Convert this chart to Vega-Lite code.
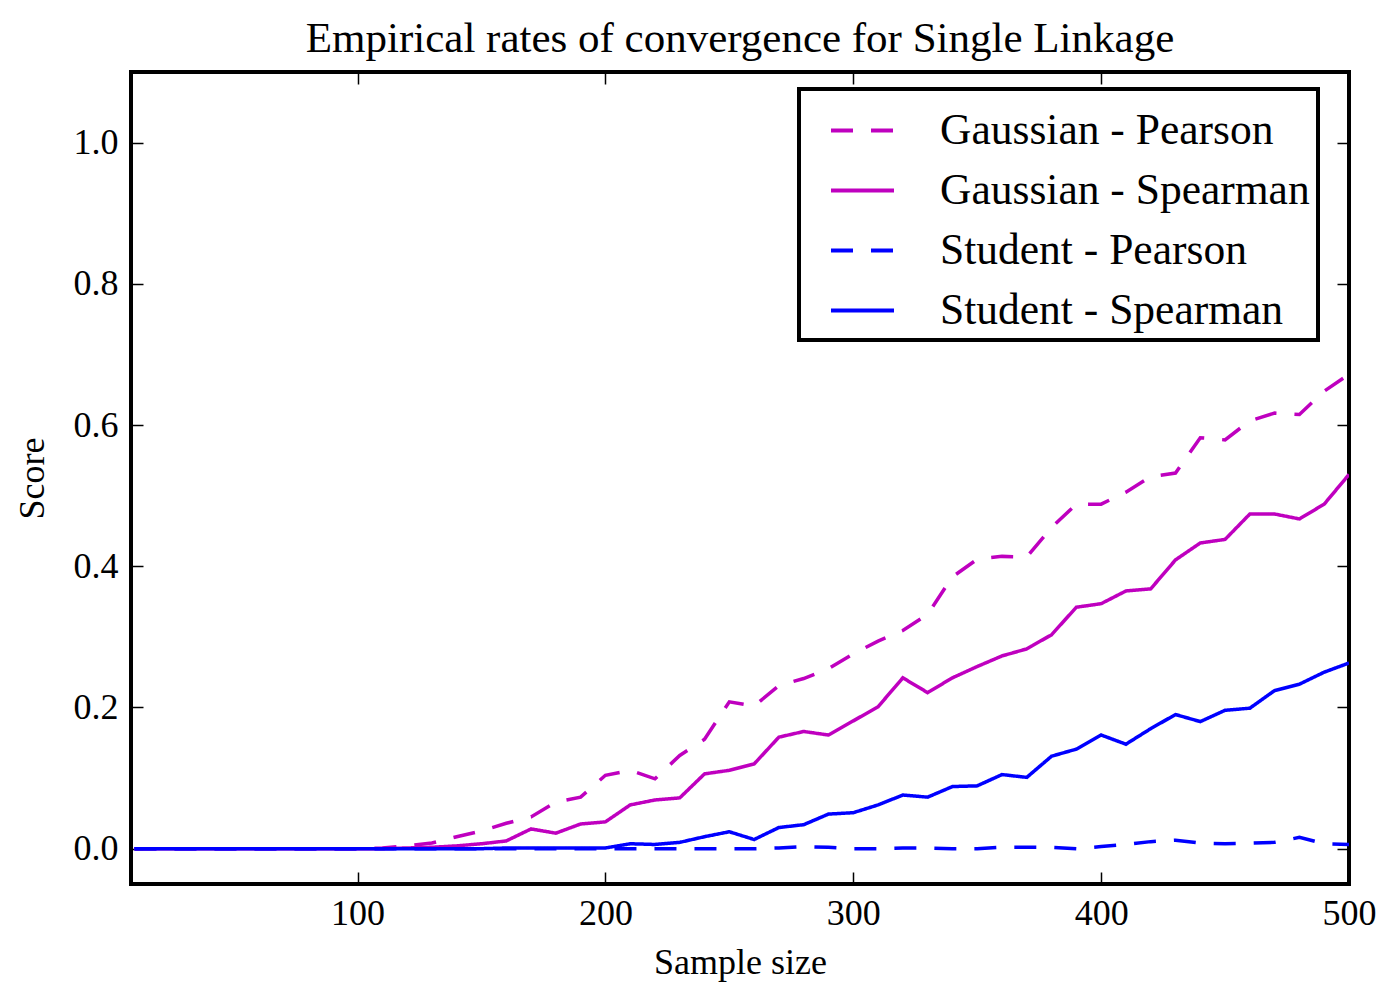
{
  "$schema": "https://vega.github.io/schema/vega-lite/v6.json",
  "width": 1218,
  "height": 812,
  "autosize": {"type": "none"},
  "padding": {"left": 131, "top": 72, "right": 39, "bottom": 107},
  "background": "white",
  "title": {"text": "Empirical rates of convergence for Single Linkage", "font": "Liberation Serif", "fontSize": 43, "fontWeight": "normal", "color": "black", "offset": 10, "anchor": "middle"},
  "config": {
    "view": {"stroke": "black", "strokeWidth": 4},
    "font": "Liberation Serif",
    "axis": {"domain": false, "grid": false, "tickColor": "black", "tickWidth": 1.5, "tickSize": -12, "labelFlush": false, "labelFont": "Liberation Serif", "labelFontSize": 36, "labelColor": "black", "titleFont": "Liberation Serif", "titleFontSize": 36, "titleFontWeight": "normal", "titleColor": "black"},
    "legend": {"labelFont": "Liberation Serif", "labelFontSize": 43.5, "labelColor": "black", "labelLimit": 0}
  },
  "data": {"values": [
    {"n": 10, "Gaussian - Pearson": 0, "Gaussian - Spearman": 0, "Student - Pearson": 0, "Student - Spearman": 0},
    {"n": 20, "Gaussian - Pearson": 0, "Gaussian - Spearman": 0, "Student - Pearson": 0, "Student - Spearman": 0},
    {"n": 30, "Gaussian - Pearson": 0, "Gaussian - Spearman": 0, "Student - Pearson": 0, "Student - Spearman": 0},
    {"n": 40, "Gaussian - Pearson": 0, "Gaussian - Spearman": 0, "Student - Pearson": 0, "Student - Spearman": 0},
    {"n": 50, "Gaussian - Pearson": 0, "Gaussian - Spearman": 0, "Student - Pearson": 0, "Student - Spearman": 0},
    {"n": 60, "Gaussian - Pearson": 0, "Gaussian - Spearman": 0, "Student - Pearson": 0, "Student - Spearman": 0},
    {"n": 70, "Gaussian - Pearson": 0, "Gaussian - Spearman": 0, "Student - Pearson": 0, "Student - Spearman": 0},
    {"n": 80, "Gaussian - Pearson": 0, "Gaussian - Spearman": 0, "Student - Pearson": 0, "Student - Spearman": 0},
    {"n": 90, "Gaussian - Pearson": 0, "Gaussian - Spearman": 0, "Student - Pearson": 0, "Student - Spearman": 0},
    {"n": 100, "Gaussian - Pearson": 0, "Gaussian - Spearman": 0, "Student - Pearson": 0, "Student - Spearman": 0},
    {"n": 110, "Gaussian - Pearson": 0.001, "Gaussian - Spearman": 0, "Student - Pearson": 0, "Student - Spearman": 0},
    {"n": 120, "Gaussian - Pearson": 0.004, "Gaussian - Spearman": 0.001, "Student - Pearson": 0, "Student - Spearman": 0},
    {"n": 130, "Gaussian - Pearson": 0.008, "Gaussian - Spearman": 0.002, "Student - Pearson": 0, "Student - Spearman": 0},
    {"n": 140, "Gaussian - Pearson": 0.017, "Gaussian - Spearman": 0.004, "Student - Pearson": 0, "Student - Spearman": 0},
    {"n": 150, "Gaussian - Pearson": 0.025, "Gaussian - Spearman": 0.007, "Student - Pearson": 0, "Student - Spearman": 0},
    {"n": 160, "Gaussian - Pearson": 0.036, "Gaussian - Spearman": 0.011, "Student - Pearson": 0, "Student - Spearman": 0.001},
    {"n": 170, "Gaussian - Pearson": 0.045, "Gaussian - Spearman": 0.028, "Student - Pearson": 0, "Student - Spearman": 0.001},
    {"n": 180, "Gaussian - Pearson": 0.066, "Gaussian - Spearman": 0.022, "Student - Pearson": 0, "Student - Spearman": 0.001},
    {"n": 190, "Gaussian - Pearson": 0.073, "Gaussian - Spearman": 0.035, "Student - Pearson": 0, "Student - Spearman": 0.001},
    {"n": 200, "Gaussian - Pearson": 0.104, "Gaussian - Spearman": 0.038, "Student - Pearson": 0, "Student - Spearman": 0.001},
    {"n": 210, "Gaussian - Pearson": 0.111, "Gaussian - Spearman": 0.062, "Student - Pearson": 0, "Student - Spearman": 0.007},
    {"n": 220, "Gaussian - Pearson": 0.099, "Gaussian - Spearman": 0.069, "Student - Pearson": 0, "Student - Spearman": 0.006},
    {"n": 230, "Gaussian - Pearson": 0.132, "Gaussian - Spearman": 0.072, "Student - Pearson": 0, "Student - Spearman": 0.009},
    {"n": 240, "Gaussian - Pearson": 0.155, "Gaussian - Spearman": 0.106, "Student - Pearson": 0, "Student - Spearman": 0.017},
    {"n": 250, "Gaussian - Pearson": 0.208, "Gaussian - Spearman": 0.111, "Student - Pearson": 0, "Student - Spearman": 0.024},
    {"n": 260, "Gaussian - Pearson": 0.202, "Gaussian - Spearman": 0.12, "Student - Pearson": 0, "Student - Spearman": 0.013},
    {"n": 270, "Gaussian - Pearson": 0.231, "Gaussian - Spearman": 0.158, "Student - Pearson": 0.001, "Student - Spearman": 0.03},
    {"n": 280, "Gaussian - Pearson": 0.241, "Gaussian - Spearman": 0.166, "Student - Pearson": 0.003, "Student - Spearman": 0.034},
    {"n": 290, "Gaussian - Pearson": 0.255, "Gaussian - Spearman": 0.161, "Student - Pearson": 0.002, "Student - Spearman": 0.049},
    {"n": 300, "Gaussian - Pearson": 0.276, "Gaussian - Spearman": 0.181, "Student - Pearson": 0, "Student - Spearman": 0.051},
    {"n": 310, "Gaussian - Pearson": 0.294, "Gaussian - Spearman": 0.201, "Student - Pearson": 0, "Student - Spearman": 0.062},
    {"n": 320, "Gaussian - Pearson": 0.309, "Gaussian - Spearman": 0.242, "Student - Pearson": 0.001, "Student - Spearman": 0.076},
    {"n": 330, "Gaussian - Pearson": 0.332, "Gaussian - Spearman": 0.221, "Student - Pearson": 0.001, "Student - Spearman": 0.073},
    {"n": 340, "Gaussian - Pearson": 0.385, "Gaussian - Spearman": 0.242, "Student - Pearson": 0, "Student - Spearman": 0.088},
    {"n": 350, "Gaussian - Pearson": 0.41, "Gaussian - Spearman": 0.258, "Student - Pearson": 0, "Student - Spearman": 0.089},
    {"n": 360, "Gaussian - Pearson": 0.414, "Gaussian - Spearman": 0.273, "Student - Pearson": 0.002, "Student - Spearman": 0.105},
    {"n": 370, "Gaussian - Pearson": 0.413, "Gaussian - Spearman": 0.283, "Student - Pearson": 0.002, "Student - Spearman": 0.101},
    {"n": 380, "Gaussian - Pearson": 0.455, "Gaussian - Spearman": 0.303, "Student - Pearson": 0.002, "Student - Spearman": 0.131},
    {"n": 390, "Gaussian - Pearson": 0.488, "Gaussian - Spearman": 0.342, "Student - Pearson": 0, "Student - Spearman": 0.141},
    {"n": 400, "Gaussian - Pearson": 0.488, "Gaussian - Spearman": 0.347, "Student - Pearson": 0.003, "Student - Spearman": 0.161},
    {"n": 410, "Gaussian - Pearson": 0.505, "Gaussian - Spearman": 0.365, "Student - Pearson": 0.006, "Student - Spearman": 0.148},
    {"n": 420, "Gaussian - Pearson": 0.527, "Gaussian - Spearman": 0.368, "Student - Pearson": 0.01, "Student - Spearman": 0.17},
    {"n": 430, "Gaussian - Pearson": 0.532, "Gaussian - Spearman": 0.409, "Student - Pearson": 0.012, "Student - Spearman": 0.19},
    {"n": 440, "Gaussian - Pearson": 0.582, "Gaussian - Spearman": 0.433, "Student - Pearson": 0.008, "Student - Spearman": 0.18},
    {"n": 450, "Gaussian - Pearson": 0.579, "Gaussian - Spearman": 0.438, "Student - Pearson": 0.007, "Student - Spearman": 0.196},
    {"n": 460, "Gaussian - Pearson": 0.606, "Gaussian - Spearman": 0.474, "Student - Pearson": 0.008, "Student - Spearman": 0.199},
    {"n": 470, "Gaussian - Pearson": 0.617, "Gaussian - Spearman": 0.474, "Student - Pearson": 0.009, "Student - Spearman": 0.224},
    {"n": 480, "Gaussian - Pearson": 0.615, "Gaussian - Spearman": 0.467, "Student - Pearson": 0.016, "Student - Spearman": 0.233},
    {"n": 490, "Gaussian - Pearson": 0.648, "Gaussian - Spearman": 0.488, "Student - Pearson": 0.007, "Student - Spearman": 0.25},
    {"n": 500, "Gaussian - Pearson": 0.672, "Gaussian - Spearman": 0.53, "Student - Pearson": 0.006, "Student - Spearman": 0.263}
  ]},
  "transform": [{"fold": ["Gaussian - Pearson", "Gaussian - Spearman", "Student - Pearson", "Student - Spearman"], "as": ["series", "score"]}],
  "layer": [
    {
      "mark": {"type": "line", "strokeWidth": 3.5, "clip": true},
      "encoding": {
        "x": {"field": "n", "type": "quantitative", "scale": {"domain": [8.6, 500], "nice": false, "zero": false},
              "axis": {"orient": "bottom", "values": [100, 200, 300, 400, 500], "labelPadding": 24, "title": "Sample size", "titlePadding": 14}},
        "y": {"field": "score", "type": "quantitative", "scale": {"domain": [-0.05, 1.1], "nice": false, "zero": false},
              "axis": {"orient": "left", "values": [0, 0.2, 0.4, 0.6, 0.8, 1.0], "format": ".1f", "labelPadding": 25, "title": "Score", "titlePadding": 22}},
        "color": {"field": "series", "type": "nominal",
                  "scale": {"domain": ["Gaussian - Pearson", "Gaussian - Spearman", "Student - Pearson", "Student - Spearman"], "range": ["#bf00bf", "#bf00bf", "#0000ff", "#0000ff"]},
                  "legend": {"title": null, "orient": "none", "legendX": 668, "legendY": 17, "symbolType": "stroke", "symbolSize": 3969, "symbolStrokeWidth": 4, "labelOffset": 44, "symbolOffset": 22, "padding": 8, "rowPadding": 5, "labelLimit": 0, "strokeColor": "black", "fillColor": "white",
                             "encode": {"legend": {"update": {"strokeWidth": {"value": 4}}}}}},
        "strokeDash": {"field": "series", "type": "nominal",
                       "scale": {"domain": ["Gaussian - Pearson", "Gaussian - Spearman", "Student - Pearson", "Student - Spearman"], "range": [[22, 18], [1, 0], [22, 18], [1, 0]]},
                       "legend": {"title": null, "orient": "none", "legendX": 668, "legendY": 17, "symbolType": "stroke", "symbolSize": 3969, "symbolStrokeWidth": 4, "labelOffset": 44, "symbolOffset": 22, "padding": 8, "rowPadding": 5, "labelLimit": 0, "strokeColor": "black", "fillColor": "white",
                             "encode": {"legend": {"update": {"strokeWidth": {"value": 4}}}}}}
      }
    },
    {
      "mark": {"type": "line", "opacity": 0},
      "encoding": {
        "x": {"field": "n", "type": "quantitative", "scale": {"domain": [8.6, 500], "nice": false, "zero": false},
              "axis": {"orient": "top", "values": [100, 200, 300, 400, 500], "labels": false, "title": null}},
        "y": {"field": "score", "type": "quantitative", "scale": {"domain": [-0.05, 1.1], "nice": false, "zero": false},
              "axis": {"orient": "right", "values": [0, 0.2, 0.4, 0.6, 0.8, 1.0], "labels": false, "title": null}}
      }
    }
  ],
  "resolve": {"axis": {"x": "independent", "y": "independent"}}
}
